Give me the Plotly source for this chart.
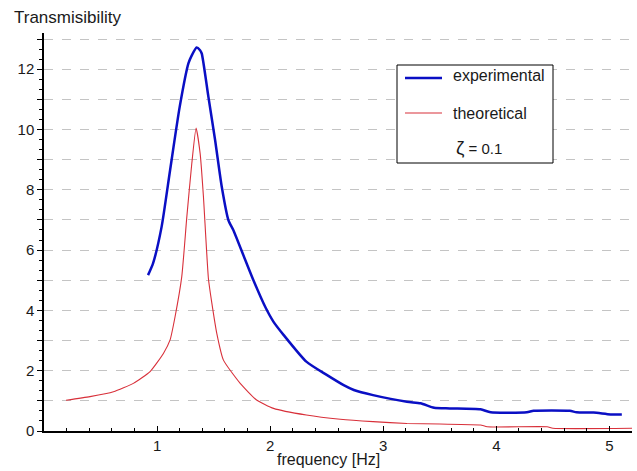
import plotly.graph_objects as go

# ---- data ----
exp_freq = [0.92, 0.965, 1.04, 1.115, 1.20, 1.277, 1.307, 1.35, 1.38, 1.395, 1.454, 1.513,
            1.572, 1.631, 1.675, 1.78, 1.852, 1.956, 2.03, 2.12, 2.32, 2.50, 2.65, 2.74,
            2.91, 3.21, 3.33, 3.45, 3.59, 3.86, 3.95, 4.27, 4.33, 4.65, 4.71, 4.86, 5.01, 5.11]
exp_T = [5.17, 5.57, 6.77, 8.65, 10.75, 12.19, 12.46, 12.72, 12.63, 12.52, 11.08, 9.65,
         8.10, 6.99, 6.66, 5.67, 5.0, 4.12, 3.62, 3.18, 2.30, 1.86, 1.52, 1.36,
         1.19, 0.97, 0.92, 0.77, 0.75, 0.72, 0.62, 0.62, 0.67, 0.67, 0.62, 0.61, 0.55, 0.55]

theo_freq = [0.195, 0.407, 0.614, 0.79, 0.938, 1.056, 1.115, 1.159, 1.218, 1.263, 1.307,
             1.345, 1.381, 1.41, 1.454, 1.484, 1.528, 1.587, 1.735, 1.88, 2.03, 2.32,
             2.62, 2.91, 3.21, 3.50, 3.86, 3.92, 4.45, 4.50, 5.2]
theo_T = [1.02, 1.14, 1.30, 1.58, 1.97, 2.57, 3.02, 3.79, 5.11, 7.1, 8.87,
          10.05, 9.2, 7.77, 5.06, 4.25, 3.24, 2.35, 1.58, 1.03, 0.75, 0.53,
          0.39, 0.31, 0.25, 0.23, 0.2, 0.14, 0.14, 0.09, 0.09]

x_ticks = [1, 2, 3, 4, 5]
y_ticks = list(range(0, 14))
y_ticktext = [str(v) if v % 2 == 0 else "" for v in y_ticks]

BLUE = "#0a0fc4"
RED = "#d8303a"
FONT = "Liberation Sans, Arial, sans-serif"
TXT = "#1a1a1a"

W, H = 637, 471
L, R, T, B = 44, 5, 33, 40
PW, PH = W - L - R, H - T - B


def px(xp):
    return (xp - L) / PW


def py(yp):
    return (H - B - yp) / PH


fig = go.Figure()
fig.add_trace(go.Scatter(x=exp_freq, y=exp_T, mode="lines", name="experimental",
                         line=dict(color=BLUE, width=2.5, shape="spline", smoothing=0.6),
                         showlegend=False))
fig.add_trace(go.Scatter(x=theo_freq, y=theo_T, mode="lines", name="theoretical",
                         line=dict(color=RED, width=1.1, shape="spline", smoothing=0.5),
                         showlegend=False))

fig.update_layout(
    width=W, height=H,
    margin=dict(l=L, r=R, t=T, b=B),
    plot_bgcolor="white", paper_bgcolor="white",
    font=dict(family=FONT, color=TXT, size=14),
    xaxis=dict(range=[0, 5.2], tickvals=x_ticks, showgrid=False, zeroline=False,
               showline=True, linecolor="black", linewidth=1.5,
               ticks="inside", ticklen=5, tickcolor="black",
               minor=dict(dtick=0.2, tick0=0, ticks="inside", ticklen=3, tickcolor="black"),
               tickfont=dict(size=15)),
    yaxis=dict(range=[0, 13.2], tickvals=y_ticks, ticktext=y_ticktext,
               showgrid=True, gridcolor="#c4c4c4", griddash="dash", gridwidth=1,
               zeroline=False, showline=True, linecolor="black", linewidth=1.5,
               ticks="outside", ticklen=5, tickcolor="black",
               minor=dict(dtick=1/3, tick0=0, ticks="outside", ticklen=3,
                          tickcolor="black", showgrid=False),
               tickfont=dict(size=15)),
)

# axis titles
fig.add_annotation(text="Transmisibility", xref="paper", yref="paper",
                   x=px(12), y=py(17), xanchor="left", yanchor="middle",
                   showarrow=False, font=dict(size=17))
fig.add_annotation(text="frequency [Hz]", xref="paper", yref="paper",
                   x=px(328), y=py(459), xanchor="center", yanchor="middle",
                   showarrow=False, font=dict(size=16))

# legend box
fig.add_shape(type="rect", xref="paper", yref="paper",
              x0=px(397), x1=px(553), y0=py(65), y1=py(163),
              line=dict(color="black", width=1), fillcolor="white", layer="above")
fig.add_shape(type="line", xref="paper", yref="paper",
              x0=px(405), x1=px(442), y0=py(78), y1=py(78),
              line=dict(color=BLUE, width=2.5), layer="above")
fig.add_shape(type="line", xref="paper", yref="paper",
              x0=px(405), x1=px(442), y0=py(113), y1=py(113),
              line=dict(color=RED, width=1.1), layer="above")
fig.add_annotation(text="experimental", xref="paper", yref="paper",
                   x=px(451), y=py(76), xanchor="left", yanchor="middle",
                   showarrow=False, font=dict(size=16))
fig.add_annotation(text="theoretical", xref="paper", yref="paper",
                   x=px(451), y=py(113), xanchor="left", yanchor="middle",
                   showarrow=False, font=dict(size=16))
fig.add_annotation(text="ζ<span style='font-size:15px'> = 0.1</span>",
                   xref="paper", yref="paper",
                   x=px(454), y=py(147), xanchor="left", yanchor="middle",
                   showarrow=False, font=dict(size=19))

fig.write_html("out.html")
